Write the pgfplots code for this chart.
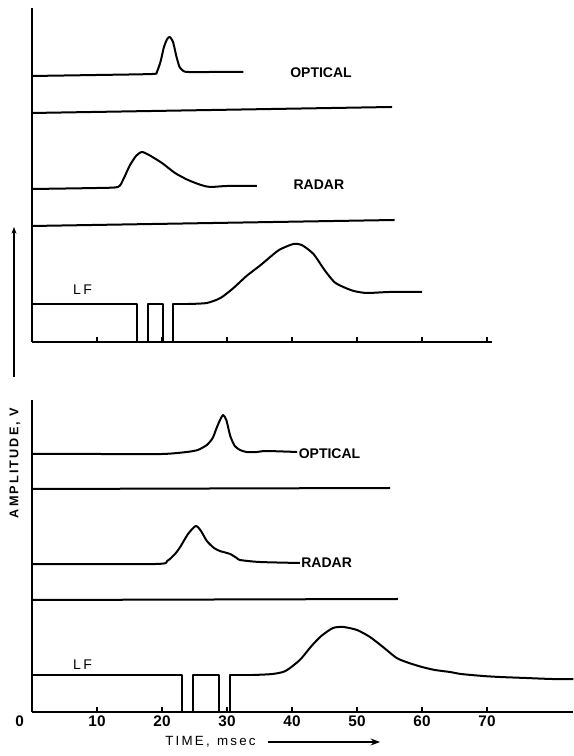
\documentclass[border=0pt]{standalone}
\usepackage{fontspec}
\setmainfont{Liberation Sans}
\usepackage{pgfplots}
\pgfplotsset{compat=1.18}
\usetikzlibrary{arrows.meta}
\tikzset{lab/.style={font=\bfseries\fontsize{10.5}{12}\selectfont, anchor=west, inner sep=0pt}}
\begin{document}
\begin{tikzpicture}
\useasboundingbox (0,0) rectangle (430.5pt,567pt);
\pgfplotsset{panel/.style={anchor=south west, x=4.875pt, y=0.75pt, xmin=0, ymin=0,
  axis x line=bottom, axis y line=left, axis line style={-, line width=1.2pt},
  ytick=\empty, clip=false, tick align=inside, major tick length=3.5pt,
  tick style={line width=1pt, black},
  /pgf/number format/assume math mode=true},
  tr/.style={black, solid, line width=1.5pt, line join=round, mark=none},
  curve/.style={tr, smooth, tension=0.4}}
% ---------- top panel ----------
\begin{axis}[panel, at={(24pt,310.5pt)}, xmax=70.7, ymax=334,
  xtick={10,20,30,40,50,60,70}, xticklabels={}]
\addplot[curve] coordinates {(0,266) (10,267) (18.5,268) (19.2,270) (19.8,281) (20.3,295) (20.8,303) (21.2,305) (21.7,300) (22.2,286) (22.7,275) (23.3,271) (24,270) (28,270) (32.5,270)};
\addplot[tr] coordinates {(0,229) (55.4,235)};
\addplot[curve] coordinates {(0,153) (10,154) (13.2,155) (14,162) (15,176) (16,186) (16.9,190) (18,187) (20,179) (22,169) (24,162) (26,157) (27.4,155) (30,156) (34.6,156)};
\addplot[tr] coordinates {(0,116) (55.8,122)};
\addplot[tr] coordinates {(0,38) (16.1,38) (16.1,0) (17.8,0) (17.8,38) (20.2,38) (20.2,0) (21.7,0) (21.7,38) (24,38)};
\addplot[curve] coordinates {(24,38) (26.9,39) (29,44) (31,54) (33,66) (35,76) (36.1,82) (38,92) (40.2,98) (41.5,97) (43.3,88) (45,72) (46.5,60) (47.9,55) (49.5,51) (51.5,49) (55,50) (60,50)};
\node[lab] at (axis cs:39.7,269) {OPTICAL};
\node[lab] at (axis cs:40.2,157) {RADAR};
\node[lab, font=\fontsize{10.5}{12}\selectfont] at (axis cs:6.3,52) {L\,F};
\end{axis}
% ---------- bottom panel ----------
\begin{axis}[panel, at={(24pt,33pt)}, xmax=83.3, ymax=312,
  xtick={0,10,20,30,40,50,60,70},
  xticklabels={\makebox[0pt][r]{0\hspace{6pt}},10,20,30,40,50,60,70},
  xticklabel style={font=\bfseries\fontsize{11.5}{13}\selectfont, yshift=1pt}]
\addplot[curve] coordinates {(0,258) (10,258) (20,258) (23.8,260) (25.5,262) (26.9,267) (27.8,274) (28.4,284) (29,293) (29.4,297) (29.9,292) (30.5,276) (31.2,266) (32,262) (33,260) (34.6,260) (36,261) (40.8,260)};
\addplot[tr] coordinates {(0,223) (55.1,224)};
\addplot[curve] coordinates {(0,148) (19,148) (20.8,151) (22,158) (22.8,165) (24,178) (25.2,186) (26,181) (26.9,171) (28,164) (28.9,161) (30,159) (30.5,158) (31.5,154) (32,152) (35,150) (41.2,149)};
\addplot[tr] coordinates {(0,112) (56.3,113)};
\addplot[tr] coordinates {(0,37) (23,37) (23,0) (24.8,0) (24.8,37) (28.8,37) (28.8,0) (30.4,0) (30.4,37) (34,37)};
\addplot[curve] coordinates {(34,37) (37,38) (39,41) (41.2,52) (43,66) (44.5,76) (46.3,84) (47.9,85) (50,82) (52,75) (54,65) (56.1,54) (58,49) (60,45) (62,42) (64.3,40) (66,38) (69.4,36) (72,35) (76,34) (80,33) (83.3,33)};
\node[lab] at (axis cs:41,258) {OPTICAL};
\node[lab] at (axis cs:41.4,149) {RADAR};
\node[lab, font=\fontsize{10.5}{12}\selectfont] at (axis cs:6.3,47) {L\,F};
\end{axis}
% ---------- annotations ----------
\node[rotate=90, font=\bfseries\fontsize{9.5}{11}\selectfont] at (11.25pt,219.75pt) {A\,M\,P\,L\,I\,T\,U\,D\,E\,,\, V};
\draw[line width=0.8pt, -{Stealth[length=5pt]}] (10.5pt,284.25pt) -- (10.5pt,396.75pt);
\node[anchor=west, inner sep=0pt, font=\fontsize{10}{12}\selectfont] at (123.75pt,11pt) {T\,I\,M\,E\,, \ m\,s\,e\,c};
\draw[line width=1pt, -{Stealth[length=7pt]}] (201pt,10.5pt) -- (285pt,10.5pt);
\end{tikzpicture}
\end{document}
